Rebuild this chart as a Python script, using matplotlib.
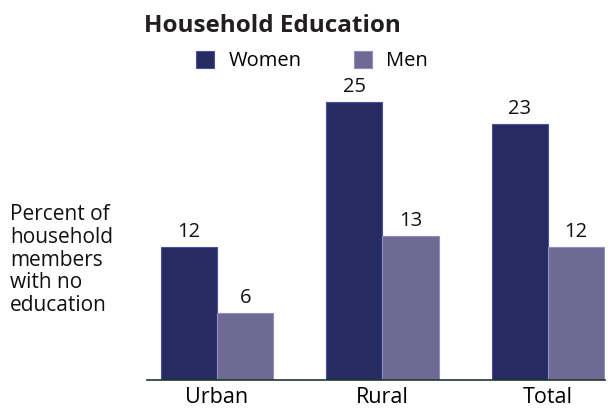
import numpy as np
import matplotlib.pyplot as plt

# data
CATEGORIES = ["Urban", "Rural", "Total"]
WOMEN = [12, 25, 23]
MEN = [6, 13, 12]

WOMEN_COLOR = "#262c62"
MEN_COLOR = "#6e6a93"

plt.rcParams["font.family"] = ["Open Sans", "DejaVu Sans"]

fig = plt.figure(figsize=(6.13, 4.12), dpi=100)
ax = fig.add_axes([0.2398, 0.0777, 0.747, 0.704])

x = np.arange(len(CATEGORIES))
width = 0.34

b1 = ax.bar(x - width / 2, WOMEN, width, color=WOMEN_COLOR,
            edgecolor="#4a4fa0", linewidth=0.8, label="Women")
b2 = ax.bar(x + width / 2, MEN, width, color=MEN_COLOR,
            edgecolor="#8f8cc8", linewidth=0.8, label="Men")

for bars, vals in [(b1, WOMEN), (b2, MEN)]:
    for rect, v in zip(bars, vals):
        ax.text(rect.get_x() + rect.get_width() / 2, v + 0.45, str(v),
                ha="center", va="bottom", fontsize=14.5, color="#111111")

ax.set_xlim(-0.423, 2.344)
ax.set_ylim(0, 26.1)

for s in ["top", "right", "left"]:
    ax.spines[s].set_visible(False)
ax.spines["bottom"].set_color("#1e3a2a")
ax.spines["bottom"].set_linewidth(1.2)
ax.set_yticks([])
ax.set_xticks(x)
ax.set_xticklabels(CATEGORIES, fontsize=15.5)
ax.tick_params(axis="x", length=0, pad=5)

fig.text(272 / 613, 1 - 26 / 412, "Household Education", ha="center",
         va="center", fontsize=17.5, fontweight="bold", color="#231f20")

fig.legend(handles=[b1, b2], loc="center", bbox_to_anchor=(312 / 613, 1 - 61 / 412),
           ncol=2, frameon=False, fontsize=14.5, handlelength=0.9,
           handleheight=0.9, columnspacing=2.6, handletextpad=0.7)

fig.text(10 / 613, 1 - 260 / 412,
         "Percent of\nhousehold\nmembers\nwith no\neducation",
         ha="left", va="center", fontsize=15, linespacing=1.12, color="#111111")

fig.savefig("out.png", dpi=100)
